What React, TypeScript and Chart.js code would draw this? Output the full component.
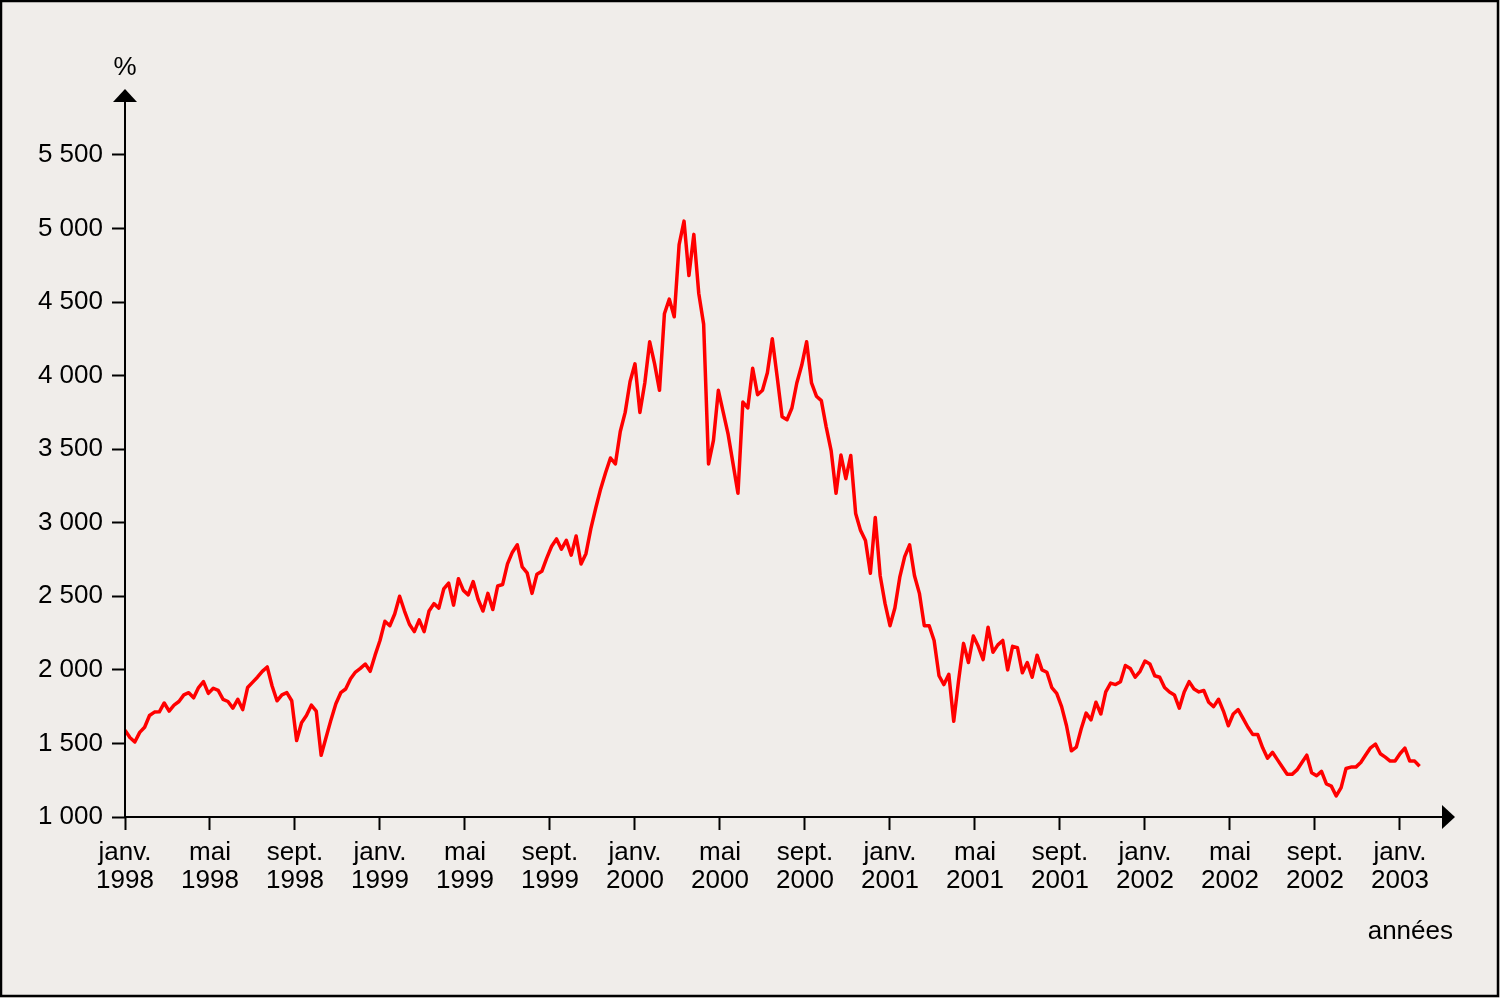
import React, { useEffect, useRef } from "react";
import { Chart, registerables } from "chart.js";

Chart.register(...registerables);

// Weekly index values, first week of January 1998 onwards
const values1998 = [1590, 1540, 1510, 1575, 1610, 1690, 1713, 1715, 1775, 1720, 1760, 1785, 1830, 1845, 1810, 1880, 1920, 1840, 1875, 1860, 1800, 1785, 1740, 1800, 1730, 1880, 1915, 1950, 1990, 2020, 1890, 1790, 1830, 1845, 1790, 1520, 1640, 1690, 1760, 1720, 1420, 1540, 1660, 1770, 1845, 1870, 1940, 1985, 2010, 2040, 1990, 2100];
const values1999 = [2200, 2330, 2300, 2380, 2500, 2400, 2310, 2260, 2340, 2260, 2400, 2450, 2420, 2550, 2590, 2440, 2620, 2540, 2510, 2600, 2480, 2400, 2520, 2410, 2570, 2580, 2720, 2800, 2850, 2700, 2660, 2520, 2650, 2670, 2760, 2840, 2890, 2820, 2880, 2780, 2910, 2720, 2790, 2960, 3100, 3230, 3340, 3440, 3400, 3620, 3750, 3960];
const values2000 = [4080, 3750, 3950, 4230, 4080, 3900, 4420, 4520, 4400, 4890, 5050, 4680, 4960, 4560, 4350, 3400, 3560, 3900, 3750, 3600, 3400, 3200, 3820, 3780, 4050, 3870, 3900, 4020, 4250, 3990, 3720, 3700, 3780, 3950, 4070, 4230, 3950, 3860, 3830, 3650, 3490, 3200, 3460, 3300, 3457, 3063, 2948, 2880, 2656, 3036, 2640, 2450];
const values2001 = [2300, 2420, 2630, 2770, 2850, 2640, 2520, 2300, 2300, 2200, 1960, 1900, 1970, 1650, 1930, 2180, 2050, 2230, 2160, 2070, 2290, 2120, 2170, 2200, 2000, 2160, 2150, 1980, 2050, 1950, 2100, 2000, 1984, 1880, 1840, 1750, 1620, 1450, 1475, 1600, 1706, 1660, 1780, 1700, 1850, 1910, 1900, 1920, 2030, 2010, 1950, 1990];
const values2002 = [2060, 2040, 1960, 1950, 1880, 1850, 1830, 1740, 1850, 1920, 1870, 1850, 1860, 1780, 1750, 1800, 1720, 1620, 1700, 1730, 1670, 1610, 1560, 1560, 1470, 1400, 1440, 1390, 1340, 1290, 1290, 1320, 1370, 1420, 1300, 1280, 1310, 1225, 1210, 1143, 1200, 1330, 1339, 1339, 1370, 1421, 1470, 1495, 1430, 1407, 1380, 1380];
const values2003 = [1430, 1468, 1380, 1380, 1345];

const xTickMonths = [0, 4, 8, 12, 16, 20, 24, 28, 32, 36, 40, 44, 48, 52, 56, 60];
const xTickLabels = [
  ["janv.", "1998"], ["mai", "1998"], ["sept.", "1998"],
  ["janv.", "1999"], ["mai", "1999"], ["sept.", "1999"],
  ["janv.", "2000"], ["mai", "2000"], ["sept.", "2000"],
  ["janv.", "2001"], ["mai", "2001"], ["sept.", "2001"],
  ["janv.", "2002"], ["mai", "2002"], ["sept.", "2002"],
  ["janv.", "2003"],
];
const yTickValues = [1000, 1500, 2000, 2500, 3000, 3500, 4000, 4500, 5000, 5500];
const yTickLabels = ["1 000", "1 500", "2 000", "2 500", "3 000", "3 500", "4 000", "4 500", "5 000", "5 500"];

const BG = "#f0edea";
const FONT = "'Liberation Sans', Arial, sans-serif";
const FONT_SIZE = 26;

export default function App() {
  const ref = useRef<HTMLCanvasElement | null>(null);

  useEffect(() => {
    document.body.style.margin = "0";
    const canvas = ref.current;
    if (!canvas) return;

    const allValues = [...values1998, ...values1999, ...values2000, ...values2001, ...values2002, ...values2003];
    const points = allValues.map((v, i) => ({ x: (i * 12) / 52, y: v }));

    const decor = {
      id: "decor",
      beforeDraw(chart: any) {
        const ctx = chart.ctx;
        ctx.save();
        ctx.fillStyle = BG;
        ctx.fillRect(0, 0, chart.width, chart.height);
        ctx.restore();
      },
      afterDraw(chart: any) {
        const ctx = chart.ctx;
        const { left, right, top, bottom } = chart.chartArea;
        ctx.save();
        ctx.strokeStyle = "#000";
        ctx.fillStyle = "#000";
        ctx.lineWidth = 2;
        // y axis
        ctx.beginPath();
        ctx.moveTo(left, bottom + 1);
        ctx.lineTo(left, top + 12);
        ctx.stroke();
        ctx.beginPath();
        ctx.moveTo(left, top);
        ctx.lineTo(left - 12, top + 13);
        ctx.lineTo(left + 12, top + 13);
        ctx.closePath();
        ctx.fill();
        // x axis
        ctx.beginPath();
        ctx.moveTo(left - 1, bottom);
        ctx.lineTo(right - 12, bottom);
        ctx.stroke();
        ctx.beginPath();
        ctx.moveTo(right, bottom);
        ctx.lineTo(right - 13, bottom - 12);
        ctx.lineTo(right - 13, bottom + 12);
        ctx.closePath();
        ctx.fill();
        // texts
        ctx.font = `${FONT_SIZE}px ${FONT}`;
        ctx.textAlign = "center";
        ctx.textBaseline = "middle";
        ctx.fillText("%", left, 68);
        ctx.textAlign = "right";
        ctx.textBaseline = "alphabetic";
        ctx.fillText("années", 1453, 939);
        // frame
        ctx.lineWidth = 2.5;
        ctx.strokeRect(1, 1, chart.width - 3, chart.height - 3);
        ctx.restore();
      },
    };

    const font = { family: FONT, size: FONT_SIZE, lineHeight: 28 / FONT_SIZE };

    const chart = new Chart(canvas, {
      type: "line",
      data: {
        datasets: [
          {
            data: points,
            borderColor: "#ff0000",
            borderWidth: 3.5,
            pointRadius: 0,
            tension: 0,
            fill: false,
            borderJoinStyle: "round",
          },
        ],
      },
      options: {
        responsive: false,
        animation: false,
        layout: { padding: { top: 89, right: 45, left: 0, bottom: 0 } },
        plugins: { legend: { display: false }, tooltip: { enabled: false } },
        scales: {
          x: {
            type: "linear",
            min: 0,
            max: 62.59,
            afterFit(s: any) {
              s.height = 181;
            },
            afterBuildTicks(s: any) {
              s.ticks = xTickMonths.map((v) => ({ value: v }));
            },
            ticks: {
              callback: (v: any) => xTickLabels[xTickMonths.indexOf(Number(v))],
              font,
              color: "#000",
              padding: 9,
              maxRotation: 0,
              minRotation: 0,
              autoSkip: false,
            },
            grid: {
              drawOnChartArea: false,
              drawTicks: true,
              tickLength: 13,
              tickColor: "#000",
              tickWidth: 2,
            },
            border: { display: false },
          },
          y: {
            type: "linear",
            min: 1000,
            max: 5948,
            afterFit(s: any) {
              s.width = 125;
            },
            afterBuildTicks(s: any) {
              s.ticks = yTickValues.map((v) => ({ value: v }));
            },
            ticks: {
              callback: (v: any) => yTickLabels[yTickValues.indexOf(Number(v))],
              font,
              color: "#000",
              padding: 9,
            },
            grid: {
              drawOnChartArea: false,
              drawTicks: true,
              tickLength: 13,
              tickColor: "#000",
              tickWidth: 2,
            },
            border: { display: false },
          },
        },
      },
      plugins: [decor],
    } as any);

    return () => chart.destroy();
  }, []);

  return (
    <div style={{ width: 1500, height: 998 }}>
      <canvas ref={ref} width={1500} height={998} style={{ display: "block", width: 1500, height: 998 }} />
    </div>
  );
}
